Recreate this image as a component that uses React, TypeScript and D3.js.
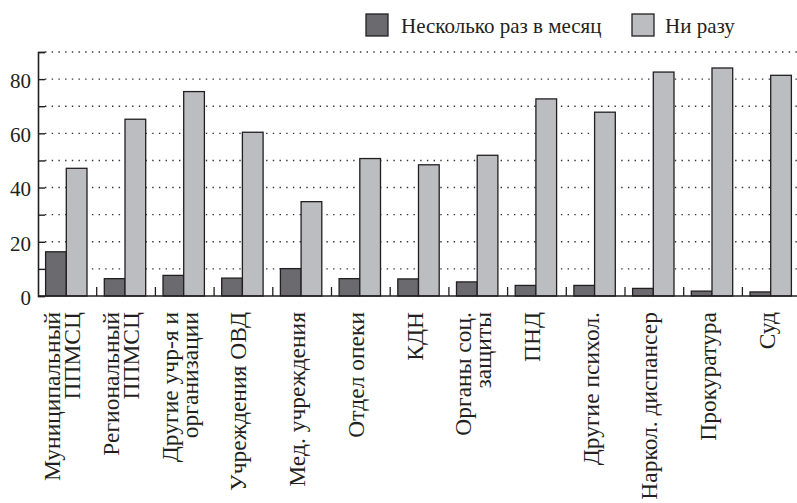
import React, { useEffect, useRef } from "react";
import * as d3 from "d3";

const categories = [
  "Муниципальный\nППМСЦ",
  "Региональный\nППМСЦ",
  "Другие учр-я и\nорганизации",
  "Учреждения ОВД",
  "Мед. учреждения",
  "Отдел опеки",
  "КДН",
  "Органы соц.\nзащиты",
  "ПНД",
  "Другие психол.",
  "Наркол. диспансер",
  "Прокуратура",
  "Суд",
];
const seriesNames = ["Несколько раз в месяц", "Ни разу"];
const severalTimes = [16.3, 6.4, 7.6, 6.6, 10.1, 6.4, 6.3, 5.2, 3.9, 3.9, 2.8, 1.8, 1.5];
const never = [47.1, 65.2, 75.4, 60.4, 34.8, 50.7, 48.4, 51.9, 72.7, 67.8, 82.6, 84.1, 81.4];
const yTickLabels = [0, 20, 40, 60, 80];
const gridValues = [10, 20, 30, 40, 50, 60, 70, 80, 90];

const W = 797;
const H = 503;
const FONT = "Liberation Serif, DejaVu Serif, Times New Roman, serif";
const INK = "#231f20";
const fills = ["#6b6b6f", "#bcbdc1"];

export default function App() {
  const ref = useRef<SVGSVGElement | null>(null);

  useEffect(() => {
    const svg = d3.select(ref.current);
    svg.selectAll("*").remove();

    const left = 38;
    const step = 58.7;
    const x0 = d3
      .scaleBand<string>()
      .domain(categories)
      .range([left, left + step * categories.length])
      .padding(0);
    const x1 = d3.scaleBand<string>().domain(seriesNames).range([7.6, 49]).padding(0);
    const y = d3.scaleLinear().domain([0, 90]).range([296, 52]);

    // dotted grid
    svg
      .append("g")
      .selectAll("line")
      .data(gridValues)
      .enter()
      .append("line")
      .attr("x1", left + 7)
      .attr("x2", W)
      .attr("y1", (d) => y(d))
      .attr("y2", (d) => y(d))
      .attr("stroke", "#333")
      .attr("stroke-width", 1.4)
      .attr("stroke-dasharray", "1.4 5.3");

    // y axis, ticks pointing inward
    const yAxis = d3
      .axisLeft(y)
      .tickValues(d3.range(0, 91, 10))
      .tickSize(-7)
      .tickFormat(() => "");
    const gy = svg.append("g").attr("transform", `translate(${left},0)`).call(yAxis);
    gy.select(".domain").attr("stroke", INK).attr("stroke-width", 1.6);
    gy.selectAll(".tick line").attr("stroke", INK).attr("stroke-width", 1.4);

    svg
      .append("g")
      .selectAll("text")
      .data(yTickLabels)
      .enter()
      .append("text")
      .attr("x", 31)
      .attr("y", (d) => y(d))
      .attr("dy", "0.42em")
      .attr("text-anchor", "end")
      .attr("font-family", FONT)
      .attr("font-size", 21)
      .attr("fill", INK)
      .text((d) => d);

    // bars
    const groups = svg
      .append("g")
      .selectAll("g")
      .data(categories.map((c, i) => ({ c, vals: [severalTimes[i], never[i]] })))
      .enter()
      .append("g")
      .attr("transform", (d) => `translate(${x0(d.c)},0)`);

    groups
      .selectAll("rect")
      .data((d) => d.vals.map((v, j) => ({ v, s: seriesNames[j], j })))
      .enter()
      .append("rect")
      .attr("x", (d) => x1(d.s)!)
      .attr("width", x1.bandwidth())
      .attr("y", (d) => y(d.v))
      .attr("height", (d) => y(0) - y(d.v))
      .attr("fill", (d) => fills[d.j])
      .attr("stroke", INK)
      .attr("stroke-width", 1.3);

    // baseline
    svg
      .append("line")
      .attr("x1", left)
      .attr("x2", W)
      .attr("y1", y(0))
      .attr("y2", y(0))
      .attr("stroke", INK)
      .attr("stroke-width", 1.6);

    // small separators between categories
    svg
      .append("g")
      .selectAll("line")
      .data(categories.slice(1))
      .enter()
      .append("line")
      .attr("x1", (d) => x0(d)!)
      .attr("x2", (d) => x0(d)!)
      .attr("y1", y(0))
      .attr("y2", y(0) - 9)
      .attr("stroke", INK)
      .attr("stroke-width", 1.3);

    // category labels, rotated, one text per line
    categories.forEach((d) => {
      const lines = d.split("\n");
      const cx = x0(d)! + x0.bandwidth() / 2;
      lines.forEach((ln, i) => {
        const bx = cx + 3 + (i - (lines.length - 1) / 2) * 20;
        svg
          .append("text")
          .attr("transform", `translate(${bx},${312}) rotate(-90)`)
          .attr("text-anchor", "end")
          .attr("font-family", FONT)
          .attr("font-size", 23.5)
          .attr("fill", INK)
          .text(ln);
      });
    });

    // legend
    const legendX = [366, 632];
    const legendTextX = [401, 665];
    const lg = svg.append("g");
    seriesNames.forEach((s, i) => {
      lg.append("rect")
        .attr("x", legendX[i])
        .attr("y", 14)
        .attr("width", 22)
        .attr("height", 22)
        .attr("fill", fills[i])
        .attr("stroke", INK)
        .attr("stroke-width", 1.3);
      lg.append("text")
        .attr("x", legendTextX[i])
        .attr("y", 33)
        .attr("font-family", FONT)
        .attr("font-size", 21)
        .attr("fill", INK)
        .text(s);
    });
  }, []);

  return (
    <svg
      ref={ref}
      width={W}
      height={H}
      style={{ position: "absolute", left: 0, top: 0, background: "#fff" }}
    />
  );
}
